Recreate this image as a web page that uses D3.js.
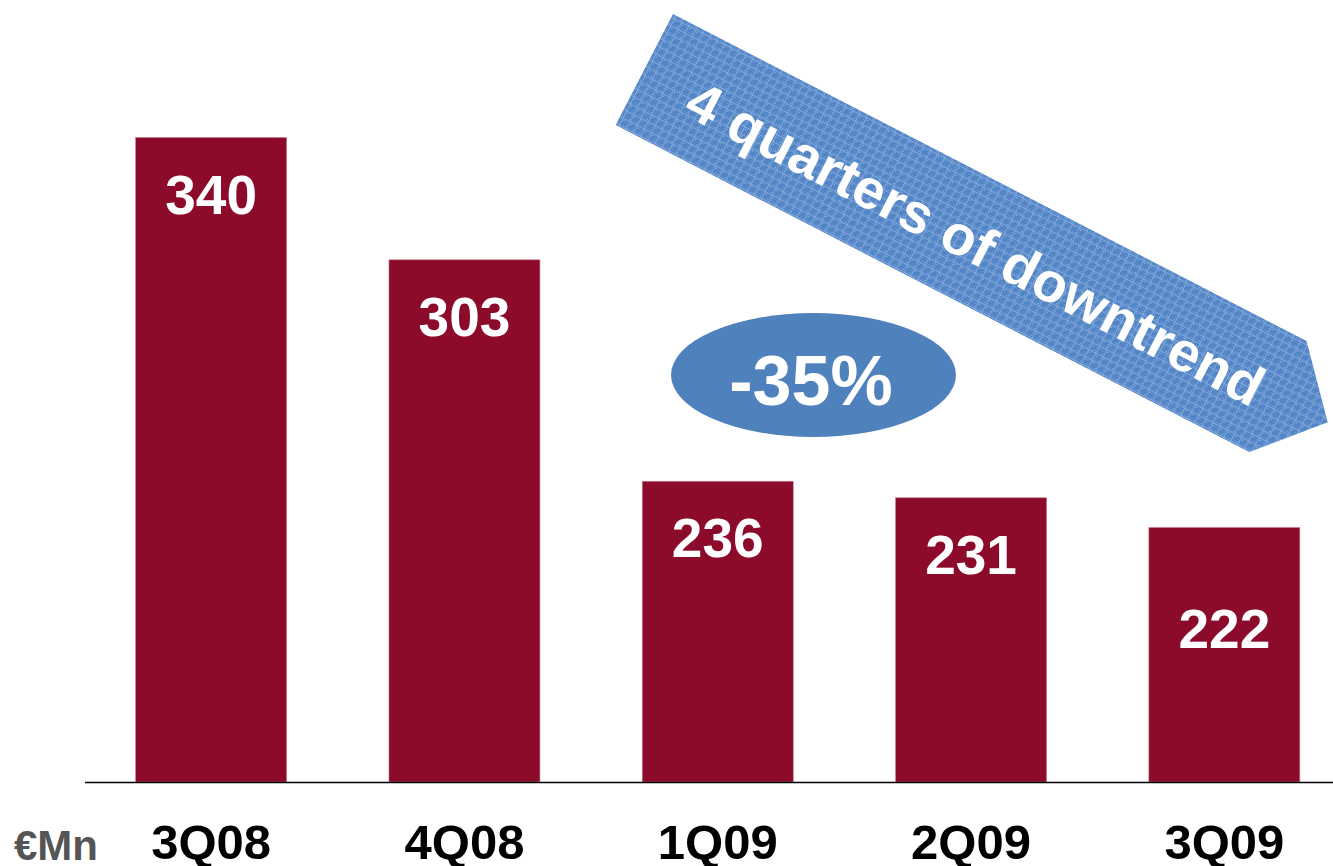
<!DOCTYPE html>
<html>
<head>
<meta charset="utf-8">
<script src="https://cdn.jsdelivr.net/npm/d3@7"></script>
<style>
  html, body { margin: 0; padding: 0; background: #fff; }
  svg { display: block; }
  text { font-family: "Liberation Sans", Arial, sans-serif; font-weight: bold; }
</style>
</head>
<body>
<svg id="chart" width="1333" height="866"></svg>
<script>
// Quarterly figures, € million
const quarters = ["3Q08", "4Q08", "1Q09", "2Q09", "3Q09"];
const values = [340, 303, 236, 231, 222];
const unitLabel = "€Mn";
const changeLabel = "-35%";
const trendLabel = "4 quarters of downtrend";

const W = 1333, H = 866;
const svg = d3.select("#chart");

const barColor = "#8c0b2b";
const blue = "#4f81bd";

const x = d3.scaleBand()
  .domain(quarters)
  .range([84.5, 1351])
  .paddingInner(0.404)
  .paddingOuter(0.202);

const y = d3.scaleLinear()
  .domain([145, 350])
  .range([782, 104.5]);

// textured fill for the trend arrow
const defs = svg.append("defs");
const pat = defs.append("pattern")
  .attr("id", "weave")
  .attr("width", 8).attr("height", 8)
  .attr("patternUnits", "userSpaceOnUse");
pat.append("rect").attr("width", 8).attr("height", 8).attr("fill", "#5285c6");
pat.append("rect").attr("x", 0).attr("y", 3).attr("width", 8).attr("height", 1).attr("fill", "#84a9dc");
pat.append("rect").attr("x", 3).attr("y", 0).attr("width", 1).attr("height", 8).attr("fill", "#84a9dc");
pat.append("rect").attr("x", 1).attr("y", 1).attr("width", 1).attr("height", 1).attr("fill", "#a3c0e8");
pat.append("rect").attr("x", 5).attr("y", 5).attr("width", 1).attr("height", 1).attr("fill", "#a3c0e8");
pat.append("rect").attr("x", 6).attr("y", 1).attr("width", 1).attr("height", 1).attr("fill", "#729bd3");
pat.append("rect").attr("x", 1).attr("y", 6).attr("width", 1).attr("height", 1).attr("fill", "#729bd3");

// bars
svg.append("g").selectAll("rect")
  .data(values)
  .join("rect")
  .attr("x", (d, i) => x(quarters[i]))
  .attr("width", x.bandwidth())
  .attr("y", d => y(d))
  .attr("height", d => y.range()[0] - y(d))
  .attr("fill", barColor)
  .attr("stroke", "#c97a8e")
  .attr("stroke-width", 0.6);

// value labels inside the bars (the last one sits lower in its bar)
svg.append("g").selectAll("text")
  .data(values)
  .join("text")
  .attr("x", (d, i) => x(quarters[i]) + x.bandwidth() / 2)
  .attr("y", (d, i) => y(d) + (i === values.length - 1 ? 120 : 76))
  .attr("text-anchor", "middle")
  .attr("fill", "#fff")
  .attr("font-size", 55)
  .text(d => d);

// category axis
const axis = d3.axisBottom(x).tickSize(0).tickPadding(42);
const gx = svg.append("g")
  .attr("transform", `translate(0,${y.range()[0]})`)
  .call(axis);
gx.select(".domain").attr("stroke", "#000").attr("stroke-width", 1.5);
gx.selectAll("text")
  .attr("font-family", "Liberation Sans, Arial, sans-serif")
  .attr("font-weight", "bold")
  .attr("font-size", 49)
  .attr("fill", "#000");

// unit label
svg.append("text")
  .attr("x", 14).attr("y", 860)
  .attr("fill", "#555")
  .attr("font-size", 42)
  .text(unitLabel);

// trend arrow: a pentagon pointing down-right
const ax0 = 673, ay0 = 14;          // top-left corner of arrow body
const ang = 27.3;                    // tilt in degrees
const bodyLen = 713, tipLen = 56, thick = 125;
const arrow = svg.append("g")
  .attr("transform", `translate(${ax0},${ay0}) rotate(${ang})`);
arrow.append("path")
  .attr("d", `M0,0 L${bodyLen},0 L${bodyLen + tipLen},${thick / 2} L${bodyLen},${thick} L0,${thick} Z`)
  .attr("fill", "url(#weave)");
arrow.append("text")
  .attr("x", 374)
  .attr("y", thick / 2 + 22)
  .attr("text-anchor", "middle")
  .attr("fill", "#fff")
  .attr("font-size", 56)
  .text(trendLabel);

// change bubble
svg.append("ellipse")
  .attr("cx", 813.5).attr("cy", 375)
  .attr("rx", 142.5).attr("ry", 62)
  .attr("fill", blue);
svg.append("text")
  .attr("x", 811).attr("y", 405)
  .attr("text-anchor", "middle")
  .attr("fill", "#fff")
  .attr("font-size", 70)
  .text(changeLabel);
</script>
</body>
</html>
